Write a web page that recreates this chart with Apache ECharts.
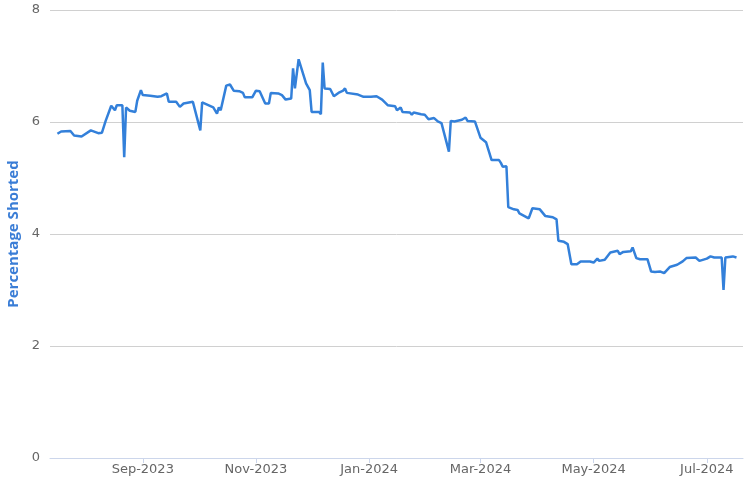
<!DOCTYPE html>
<html>
<head>
<meta charset="utf-8">
<script src="https://cdn.jsdelivr.net/npm/echarts@6/dist/echarts.min.js"></script>
<style>
  html, body { margin: 0; padding: 0; background: #fff; }
  #chart { width: 756px; height: 482px; }
</style>
</head>
<body>
<div id="chart"></div>
<script>
// 日期（交易日）
var dates = [
    '2023-07-17', '2023-07-19', '2023-07-24', '2023-07-26', '2023-07-30', '2023-08-04',
    '2023-08-08', '2023-08-10', '2023-08-12', '2023-08-15', '2023-08-17', '2023-08-18',
    '2023-08-21', '2023-08-22', '2023-08-23', '2023-08-25', '2023-08-28', '2023-08-29',
    '2023-08-31', '2023-09-01', '2023-09-05', '2023-09-09', '2023-09-11', '2023-09-14',
    '2023-09-15', '2023-09-19', '2023-09-21', '2023-09-23', '2023-09-28', '2023-10-02',
    '2023-10-03', '2023-10-09', '2023-10-11', '2023-10-12', '2023-10-13', '2023-10-16',
    '2023-10-18', '2023-10-20', '2023-10-23', '2023-10-25', '2023-10-26', '2023-10-30',
    '2023-11-01', '2023-11-03', '2023-11-06', '2023-11-08', '2023-11-09', '2023-11-13',
    '2023-11-15', '2023-11-17', '2023-11-20', '2023-11-21', '2023-11-22', '2023-11-24',
    '2023-11-28', '2023-11-29', '2023-11-30', '2023-12-01', '2023-12-05', '2023-12-06',
    '2023-12-07', '2023-12-08', '2023-12-11', '2023-12-13', '2023-12-16', '2023-12-18',
    '2023-12-19', '2023-12-20', '2023-12-26', '2023-12-29', '2024-01-02', '2024-01-05',
    '2024-01-08', '2024-01-11', '2024-01-15', '2024-01-16', '2024-01-18', '2024-01-19',
    '2024-01-23', '2024-01-24', '2024-01-25', '2024-01-29', '2024-01-31', '2024-02-02',
    '2024-02-03', '2024-02-05', '2024-02-07', '2024-02-09', '2024-02-13', '2024-02-14',
    '2024-02-15', '2024-02-16', '2024-02-20', '2024-02-22', '2024-02-23', '2024-02-27',
    '2024-03-01', '2024-03-04', '2024-03-07', '2024-03-11', '2024-03-12', '2024-03-13',
    '2024-03-15', '2024-03-16', '2024-03-19', '2024-03-21', '2024-03-22', '2024-03-27',
    '2024-03-29', '2024-04-02', '2024-04-05', '2024-04-09', '2024-04-11', '2024-04-12',
    '2024-04-15', '2024-04-17', '2024-04-19', '2024-04-22', '2024-04-24', '2024-04-29',
    '2024-05-01', '2024-05-03', '2024-05-04', '2024-05-07', '2024-05-10', '2024-05-14',
    '2024-05-15', '2024-05-17', '2024-05-21', '2024-05-22', '2024-05-24', '2024-05-26',
    '2024-05-30', '2024-05-31', '2024-06-01', '2024-06-03', '2024-06-06', '2024-06-08',
    '2024-06-11', '2024-06-15', '2024-06-18', '2024-06-20', '2024-06-25', '2024-06-27',
    '2024-07-01', '2024-07-03', '2024-07-05', '2024-07-09', '2024-07-10', '2024-07-11',
    '2024-07-15', '2024-07-17'
];

// 做空比例（%）
var shorted = [
    5.79, 5.83, 5.84, 5.76, 5.74, 5.85,
    5.80, 5.81, 6.02, 6.29, 6.21, 6.30,
    6.30, 5.37, 6.26, 6.20, 6.18, 6.38,
    6.57, 6.48, 6.47, 6.45, 6.46, 6.51,
    6.36, 6.36, 6.27, 6.33, 6.36, 5.85,
    6.35, 6.26, 6.15, 6.26, 6.21, 6.65,
    6.67, 6.56, 6.55, 6.52, 6.44, 6.44,
    6.56, 6.55, 6.33, 6.33, 6.52, 6.51,
    6.48, 6.40, 6.42, 6.96, 6.60, 7.12,
    6.69, 6.72, 6.57, 6.18, 6.18, 6.14,
    7.06, 6.60, 6.59, 6.46, 6.53, 6.56,
    6.60, 6.52, 6.49, 6.45, 6.45, 6.46,
    6.40, 6.30, 6.28, 6.21, 6.26, 6.18,
    6.17, 6.13, 6.17, 6.14, 6.13, 6.05,
    6.08, 6.07, 6.01, 5.98, 5.47, 6.02,
    6.04, 6.01, 6.04, 6.08, 6.02, 6.01,
    5.72, 5.64, 5.32, 5.32, 5.27, 5.20,
    5.21, 4.48, 4.44, 4.43, 4.37, 4.28,
    4.46, 4.44, 4.32, 4.30, 4.26, 3.88,
    3.86, 3.82, 3.46, 3.46, 3.51, 3.51,
    3.49, 3.56, 3.52, 3.54, 3.67, 3.70,
    3.64, 3.68, 3.69, 3.76, 3.57, 3.55,
    3.55, 3.52, 3.33, 3.32, 3.33, 3.30,
    3.41, 3.45, 3.51, 3.57, 3.58, 3.52,
    3.56, 3.60, 3.58, 3.58, 3.00, 3.58,
    3.60, 3.58
];

// x轴刻度（每两个月）
var tickMonths = ['2023-09-01', '2023-11-01', '2024-01-01', '2024-03-01', '2024-05-01', '2024-07-01'];
var monthNames = ['Jan', 'Feb', 'Mar', 'Apr', 'May', 'Jun', 'Jul', 'Aug', 'Sep', 'Oct', 'Nov', 'Dec'];

// y轴刻度
var yMin = 0;
var yMax = 8;
var yStep = 2;

// 日期字符串 -> 时间戳（UTC）
function toTime(str) {
    var p = str.split('-');
    return Date.UTC(+p[0], +p[1] - 1, +p[2]);
}

var axisMin = toTime('2023-07-13');
var axisMax = toTime('2024-07-20') + 12 * 3600 * 1000;
var tickValues = tickMonths.map(toTime);

var seriesData = [];
for (var i = 0; i < dates.length; i++) {
    seriesData.push([toTime(dates[i]), shorted[i]]);
}

var myChart = echarts.init(document.getElementById('chart'));

var option = {
    animation: false,
    textStyle: {
        fontFamily: 'DejaVu Sans'
    },
    grid: {
        left: 50,
        right: 13,
        top: 10,
        bottom: 24,
        containLabel: false,
        outerBoundsMode: 'none'
    },
    xAxis: {
        type: 'value',
        min: axisMin,
        max: axisMax,
        axisLine: {
            show: true,
            lineStyle: { color: '#ccd6eb', width: 1 }
        },
        axisTick: {
            show: true,
            customValues: tickValues,
            length: 5,
            lineStyle: { color: '#ccd6eb' }
        },
        axisLabel: {
            customValues: tickValues,
            color: '#666666',
            fontSize: 13,
            margin: 5,
            hideOverlap: false,
            formatter: function (val) {
                var d = new Date(val);
                return monthNames[d.getUTCMonth()] + '-' + d.getUTCFullYear();
            }
        },
        splitLine: { show: false }
    },
    yAxis: {
        type: 'value',
        min: yMin,
        max: yMax,
        interval: yStep,
        name: 'Percentage Shorted',
        nameLocation: 'middle',
        nameGap: 29,
        nameTextStyle: {
            color: '#3a7dd6',
            fontFamily: 'Open Sans',
            fontWeight: 'bold',
            fontSize: 15
        },
        axisLine: { show: false },
        axisTick: { show: false },
        axisLabel: {
            color: '#666666',
            fontSize: 13,
            margin: 10
        },
        splitLine: {
            lineStyle: { color: '#d0d0d0', width: 1 }
        }
    },
    series: [{
        name: 'Percentage Shorted',
        type: 'line',
        data: seriesData,
        showSymbol: false,
        symbol: 'none',
        lineStyle: {
            color: '#3380da',
            width: 2.5
        }
    }]
};

myChart.setOption(option);
</script>
</body>
</html>
